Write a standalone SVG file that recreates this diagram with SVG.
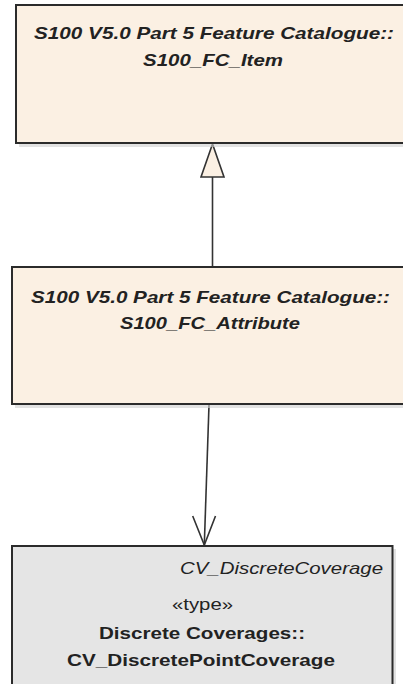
<svg xmlns="http://www.w3.org/2000/svg" width="403" height="684" viewBox="0 0 403 684">
<defs>
<style>
.box{stroke:#2b2b2b;stroke-width:2}
.cls{fill:#fbf0e3}
.typ{fill:#e5e5e5}
.shadow{fill:#cfcfcf;opacity:0.6}
.hdr{font-family:"Liberation Sans",Arial,sans-serif;font-size:17px;font-style:italic;font-weight:bold;fill:#222;text-anchor:middle}
.t{font-family:"Liberation Sans",Arial,sans-serif;font-size:17px;fill:#222;text-anchor:middle}
.b{font-weight:bold}
.it{font-style:italic}
.end{text-anchor:end}
.conn{stroke:#333;stroke-width:1.6;fill:none}
.gen{fill:#fbf0e3;stroke:#333;stroke-width:1.6}
</style>
</defs>
<g id="connectors">
<line class="conn" x1="212.5" y1="267" x2="212.5" y2="177"/>
<path class="gen" d="M212.5,144 L201,177 L224,177 Z"/>
<line class="conn" x1="209" y1="405" x2="204.3" y2="545"/>
<path class="conn" d="M192.7,516 L204.3,545 L215.5,516"/>
</g>
<g id="S100_FC_Item">
<rect class="shadow" x="19" y="8" width="400" height="139"/>
<rect class="box cls" x="16" y="5" width="400" height="138"/>
<text class="hdr" x="214" y="39" textLength="360" lengthAdjust="spacingAndGlyphs">S100 V5.0 Part 5 Feature Catalogue::</text>
<text class="hdr" x="213" y="66" textLength="140" lengthAdjust="spacingAndGlyphs">S100_FC_Item</text>
</g>
<g id="S100_FC_Attribute">
<rect class="shadow" x="15" y="270" width="400" height="138"/>
<rect class="box cls" x="12" y="267" width="400" height="137"/>
<text class="hdr" x="210.5" y="303" textLength="359" lengthAdjust="spacingAndGlyphs">S100 V5.0 Part 5 Feature Catalogue::</text>
<text class="hdr" x="210" y="329" textLength="180" lengthAdjust="spacingAndGlyphs">S100_FC_Attribute</text>
</g>
<g id="CV_DiscretePointCoverage">
<rect class="shadow" x="15" y="549" width="381" height="140"/>
<rect class="box typ" x="12" y="546" width="380.5" height="140"/>
<text class="t it end" x="383" y="574" textLength="203" lengthAdjust="spacingAndGlyphs">CV_DiscreteCoverage</text>
<text class="t" x="202.5" y="610" textLength="61" lengthAdjust="spacingAndGlyphs">«type»</text>
<text class="t b" x="202" y="639" textLength="206" lengthAdjust="spacingAndGlyphs">Discrete Coverages::</text>
<text class="t b" x="201" y="666" textLength="268" lengthAdjust="spacingAndGlyphs">CV_DiscretePointCoverage</text>
</g>
</svg>
